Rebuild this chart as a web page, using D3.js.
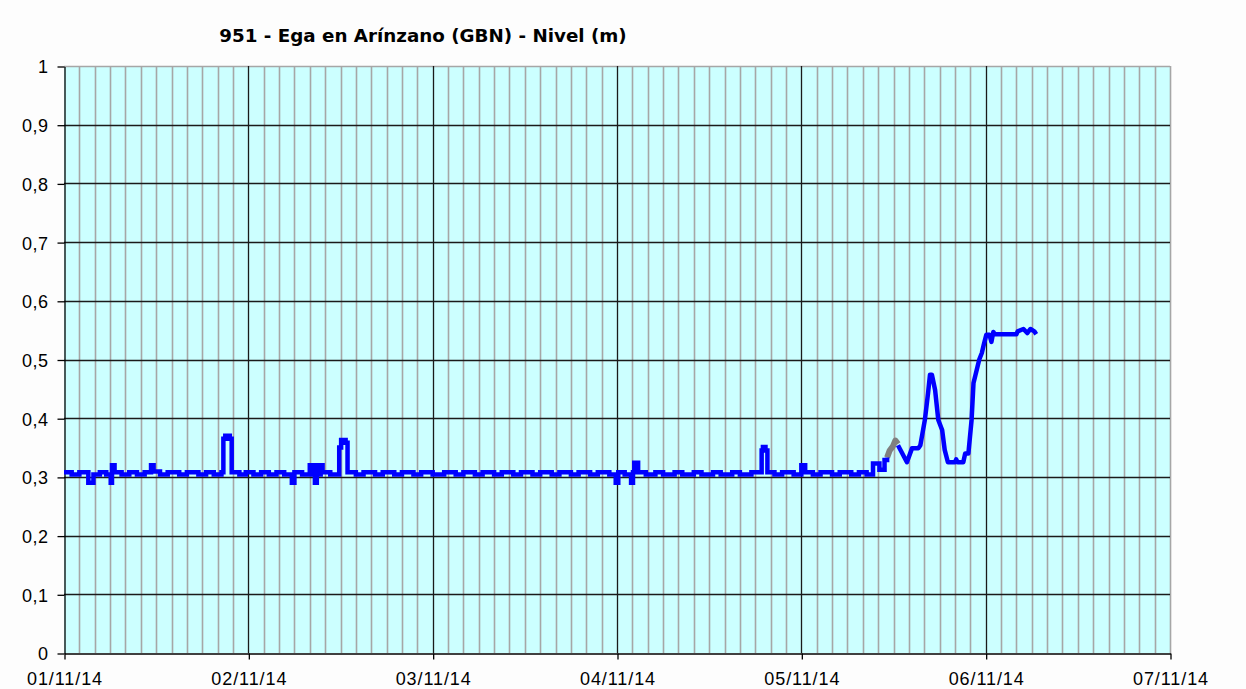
<!DOCTYPE html>
<html lang="es">
<head>
  <meta charset="UTF-8">
  <title>951 - Ega en Arínzano (GBN) - Nivel (m)</title>
  <script src="https://d3js.org/d3.v7.min.js"></script>
  <style>
    html, body {
      margin: 0;
      padding: 0;
      background: #ffffff;
    }
    #chart svg {
      display: block;
      font-family: "DejaVu Sans", Verdana, sans-serif;
    }
  </style>
</head>
<body>
  <div id="chart"></div>

  <script>
    // Chart text
    const chartTitle = "951 - Ega en Arínzano (GBN) - Nivel (m)";

    // Axis ticks
    const yTicks = [0, 0.1, 0.2, 0.3, 0.4, 0.5, 0.6, 0.7, 0.8, 0.9, 1];
    const xTickDates = ["2014-11-01", "2014-11-02", "2014-11-03", "2014-11-04",
                        "2014-11-05", "2014-11-06", "2014-11-07"];

    // Level series, 01/11 to 05/11 morning (blue, stepped readings)
    const levelTimes = [
      "2014-11-01 00:00", "2014-11-01 01:00", "2014-11-01 02:00", "2014-11-01 03:10",
      "2014-11-01 03:50", "2014-11-01 04:40", "2014-11-01 05:30", "2014-11-01 06:05",
      "2014-11-01 06:15", "2014-11-01 06:35", "2014-11-01 07:30", "2014-11-01 08:30",
      "2014-11-01 09:30", "2014-11-01 10:30", "2014-11-01 11:20", "2014-11-01 11:40",
      "2014-11-01 12:30", "2014-11-01 13:30", "2014-11-01 15:00", "2014-11-01 16:00",
      "2014-11-01 17:30", "2014-11-01 18:30", "2014-11-01 19:30", "2014-11-01 20:30",
      "2014-11-01 20:45", "2014-11-01 21:00", "2014-11-01 21:35", "2014-11-01 21:50",
      "2014-11-01 22:50", "2014-11-01 23:40",
      "2014-11-02 00:40", "2014-11-02 01:40", "2014-11-02 02:40", "2014-11-02 03:40",
      "2014-11-02 04:40", "2014-11-02 05:40", "2014-11-02 06:00", "2014-11-02 07:00",
      "2014-11-02 08:00", "2014-11-02 08:20", "2014-11-02 08:40", "2014-11-02 08:55",
      "2014-11-02 09:15", "2014-11-02 09:25", "2014-11-02 09:40", "2014-11-02 10:40",
      "2014-11-02 11:50", "2014-11-02 12:05", "2014-11-02 12:40", "2014-11-02 12:55",
      "2014-11-02 14:00", "2014-11-02 15:00", "2014-11-02 16:30", "2014-11-02 17:30",
      "2014-11-02 19:00", "2014-11-02 20:00", "2014-11-02 21:30", "2014-11-02 22:30",
      "2014-11-03 00:00", "2014-11-03 01:30", "2014-11-03 03:00", "2014-11-03 04:00",
      "2014-11-03 05:30", "2014-11-03 06:30", "2014-11-03 08:00", "2014-11-03 09:00",
      "2014-11-03 10:30", "2014-11-03 11:30", "2014-11-03 13:00", "2014-11-03 14:00",
      "2014-11-03 15:30", "2014-11-03 16:30", "2014-11-03 18:00", "2014-11-03 19:00",
      "2014-11-03 20:30", "2014-11-03 21:30", "2014-11-03 23:00", "2014-11-03 23:50",
      "2014-11-04 00:10", "2014-11-04 01:00", "2014-11-04 01:50", "2014-11-04 02:05",
      "2014-11-04 02:15", "2014-11-04 02:45", "2014-11-04 03:45", "2014-11-04 05:00",
      "2014-11-04 06:00", "2014-11-04 07:30", "2014-11-04 08:30", "2014-11-04 10:00",
      "2014-11-04 11:00", "2014-11-04 12:30", "2014-11-04 13:30", "2014-11-04 15:00",
      "2014-11-04 16:00", "2014-11-04 17:30", "2014-11-04 18:50", "2014-11-04 19:00",
      "2014-11-04 19:20", "2014-11-04 19:35", "2014-11-04 20:30", "2014-11-04 21:30",
      "2014-11-04 23:00",
      "2014-11-05 00:00", "2014-11-05 00:30", "2014-11-05 01:30", "2014-11-05 02:30",
      "2014-11-05 04:00", "2014-11-05 05:00", "2014-11-05 06:30", "2014-11-05 07:30",
      "2014-11-05 08:30", "2014-11-05 09:20", "2014-11-05 10:10", "2014-11-05 10:50",
      "2014-11-05 11:10"
    ];
    const levelValues = [
      0.308, 0.304, 0.308, 0.29,
      0.304, 0.308, 0.304, 0.29,
      0.32, 0.308, 0.304, 0.308,
      0.304, 0.308, 0.32, 0.309,
      0.304, 0.308, 0.304, 0.308,
      0.304, 0.308, 0.304, 0.308,
      0.365, 0.37, 0.365, 0.308,
      0.304, 0.308,
      0.304, 0.308, 0.304, 0.308,
      0.304, 0.29, 0.308, 0.304,
      0.32, 0.304, 0.29, 0.32,
      0.304, 0.32, 0.308, 0.304,
      0.35, 0.363, 0.358, 0.308,
      0.304, 0.308, 0.304, 0.308,
      0.304, 0.308, 0.304, 0.308,
      0.304, 0.308, 0.304, 0.308,
      0.304, 0.308, 0.304, 0.308,
      0.304, 0.308, 0.304, 0.308,
      0.304, 0.308, 0.304, 0.308,
      0.304, 0.308, 0.304, 0.29,
      0.308, 0.304, 0.29, 0.308,
      0.324, 0.308, 0.304, 0.308,
      0.304, 0.308, 0.304, 0.308,
      0.304, 0.308, 0.304, 0.308,
      0.304, 0.308, 0.345, 0.351,
      0.345, 0.308, 0.304, 0.308,
      0.304,
      0.32, 0.308, 0.304, 0.308,
      0.304, 0.308, 0.304, 0.308,
      0.304, 0.323, 0.312, 0.329,
      0.333
    ];

    // Blue series after the gray stretch (05/11 midday to the end)
    const levelTimes2 = [
      "2014-11-05 12:35", "2014-11-05 13:45", "2014-11-05 14:25", "2014-11-05 15:15",
      "2014-11-05 15:30", "2014-11-05 16:05", "2014-11-05 16:30", "2014-11-05 16:45",
      "2014-11-05 17:00", "2014-11-05 17:25", "2014-11-05 17:50", "2014-11-05 18:20",
      "2014-11-05 18:40", "2014-11-05 19:05", "2014-11-05 20:00", "2014-11-05 20:10",
      "2014-11-05 20:20", "2014-11-05 21:05", "2014-11-05 21:20", "2014-11-05 21:45",
      "2014-11-05 22:10", "2014-11-05 22:25", "2014-11-05 22:50", "2014-11-05 23:10",
      "2014-11-05 23:30", "2014-11-05 23:45", "2014-11-06 00:05", "2014-11-06 00:30",
      "2014-11-06 00:45", "2014-11-06 01:00", "2014-11-06 01:10", "2014-11-06 04:00",
      "2014-11-06 04:10", "2014-11-06 04:55", "2014-11-06 05:25", "2014-11-06 05:50",
      "2014-11-06 06:20", "2014-11-06 06:35"
    ];
    const levelValues2 = [
      0.354, 0.325, 0.349, 0.349,
      0.354, 0.397, 0.443, 0.474,
      0.474, 0.448, 0.397, 0.38,
      0.346, 0.325, 0.325, 0.33,
      0.325, 0.325, 0.34, 0.34,
      0.397, 0.46, 0.482, 0.5,
      0.511, 0.525, 0.542, 0.542,
      0.53, 0.547, 0.543, 0.543,
      0.548, 0.552, 0.545, 0.552,
      0.548, 0.543
    ];

    // Gray series (unvalidated stretch)
    const grayTimes = [
      "2014-11-05 11:10", "2014-11-05 11:30", "2014-11-05 11:55",
      "2014-11-05 12:15", "2014-11-05 12:35"
    ];
    const grayValues = [0.333, 0.345, 0.352, 0.362, 0.356];

    const width = 1246;
    const height = 689;
    const margin = { top: 66, right: 76, bottom: 36, left: 64 };

    const parseTime = d3.timeParse("%Y-%m-%d %H:%M");
    const parseDay = d3.timeParse("%Y-%m-%d");
    const formatDay = d3.timeFormat("%d/%m/%y");

    const blueA = levelTimes.map((t, i) => ({ date: parseTime(t), value: levelValues[i] }));
    const blueB = levelTimes2.map((t, i) => ({ date: parseTime(t), value: levelValues2[i] }));
    const gray = grayTimes.map((t, i) => ({ date: parseTime(t), value: grayValues[i] }));
    const dayTicks = xTickDates.map(parseDay);

    const svg = d3.select("#chart")
      .append("svg")
      .attr("width", width)
      .attr("height", height);

    svg.append("rect")
      .attr("width", width)
      .attr("height", height)
      .attr("fill", "#fdfdfd");

    const x = d3.scaleTime()
      .domain([dayTicks[0], dayTicks[dayTicks.length - 1]])
      .range([margin.left, width - margin.right]);

    const y = d3.scaleLinear()
      .domain([0, 1])
      .range([height - margin.bottom, margin.top]);

    // Plot background
    svg.append("rect")
      .attr("x", x.range()[0])
      .attr("y", y(1))
      .attr("width", x.range()[1] - x.range()[0])
      .attr("height", y(0) - y(1))
      .attr("fill", "#ccffff");

    // Minor vertical grid every 2 hours
    const lastDay = dayTicks[dayTicks.length - 1];
    const minorTicks = d3.timeHour.every(2).range(dayTicks[0], d3.timeMinute.offset(lastDay, 1));
    svg.append("g")
      .selectAll("line")
      .data(minorTicks.filter(d => d.getHours() !== 0 || +d === +lastDay))
      .join("line")
      .attr("x1", d => Math.round(x(d)) + 0.5)
      .attr("x2", d => Math.round(x(d)) + 0.5)
      .attr("y1", y(1))
      .attr("y2", y(0))
      .attr("stroke", "#a6a6a6")
      .attr("stroke-width", 1.6);

    // Horizontal grid
    svg.append("g")
      .selectAll("line")
      .data(yTicks.filter(d => d > 0))
      .join("line")
      .attr("x1", x.range()[0])
      .attr("x2", x.range()[1])
      .attr("y1", d => Math.round(y(d)) + 0.5)
      .attr("y2", d => Math.round(y(d)) + 0.5)
      .attr("stroke", d => d === 1 ? "#a6a6a6" : "#1a1a1a")
      .attr("stroke-width", d => d === 1 ? 1.6 : 1.3);

    // Day grid lines
    svg.append("g")
      .selectAll("line")
      .data(dayTicks.slice(1, -1))
      .join("line")
      .attr("x1", d => Math.round(x(d)) + 0.5)
      .attr("x2", d => Math.round(x(d)) + 0.5)
      .attr("y1", y(1))
      .attr("y2", y(0))
      .attr("stroke", "#1a1a1a")
      .attr("stroke-width", 1.3);

    // Axes
    const xAxis = d3.axisBottom(x)
      .tickValues(dayTicks)
      .tickFormat(formatDay)
      .tickSize(6)
      .tickSizeOuter(0);

    const yAxis = d3.axisLeft(y)
      .tickValues(yTicks)
      .tickFormat(d => d === 0 || d === 1 ? String(d) : String(d).replace(".", ","))
      .tickSize(7)
      .tickSizeOuter(0);

    const gx = svg.append("g")
      .attr("transform", `translate(0.5,${Math.round(y(0)) + 0.5})`)
      .call(xAxis);
    gx.select(".domain").attr("stroke", "#000").attr("stroke-width", 1.3);
    gx.selectAll(".tick line").attr("stroke", "#000").attr("stroke-width", 1.3);
    gx.selectAll(".tick text")
      .attr("dy", 0)
      .attr("y", 31)
      .attr("fill", "#000")
      .style("font-size", "18px")
      .style("letter-spacing", "0.9px");

    const gy = svg.append("g")
      .attr("transform", `translate(${x.range()[0] + 0.5},0.5)`)
      .call(yAxis);
    gy.select(".domain").attr("stroke", "#000").attr("stroke-width", 1.3);
    gy.selectAll(".tick line").attr("stroke", "#000").attr("stroke-width", 1.3);
    gy.selectAll(".tick text")
      .attr("x", -16)
      .attr("dy", "0.36em")
      .attr("fill", "#000")
      .style("font-size", "18px")
      .style("letter-spacing", "0.5px");

    // Series
    const stepLine = d3.line()
      .x(d => x(d.date))
      .y(d => y(d.value))
      .curve(d3.curveStepAfter);

    const line = d3.line()
      .x(d => x(d.date))
      .y(d => y(d.value));

    svg.append("path")
      .datum(gray)
      .attr("fill", "none")
      .attr("stroke", "#808080")
      .attr("stroke-width", 6)
      .attr("stroke-linejoin", "round")
      .attr("d", line);

    svg.append("path")
      .datum(blueA)
      .attr("fill", "none")
      .attr("stroke", "#0000ff")
      .attr("stroke-width", 4.5)
      .attr("d", stepLine);

    svg.append("path")
      .datum(blueB)
      .attr("fill", "none")
      .attr("stroke", "#0000ff")
      .attr("stroke-width", 4.5)
      .attr("stroke-linejoin", "round")
      .attr("d", line);

    // Title
    svg.append("text")
      .attr("x", 423)
      .attr("y", 42)
      .attr("text-anchor", "middle")
      .attr("fill", "#000")
      .style("font-size", "18.3px")
      .style("font-weight", "bold")
      .text(chartTitle);
  </script>
</body>
</html>
